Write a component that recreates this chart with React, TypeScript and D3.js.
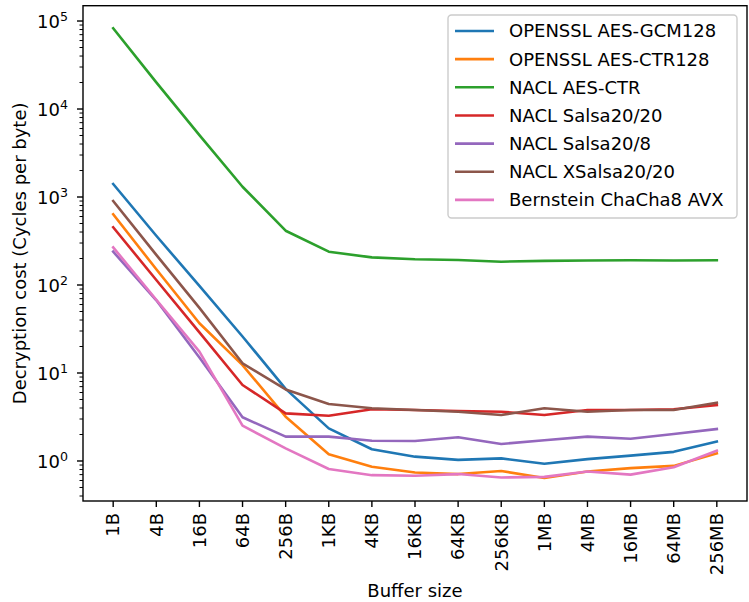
import React, { useEffect, useRef } from 'react';
import * as d3 from 'd3';

const sizes = ['1B', '4B', '16B', '64B', '256B', '1KB', '4KB', '16KB', '64KB', '256KB', '1MB', '4MB', '16MB', '64MB', '256MB'];

const gcm128 = [1405, 363, 97.5, 26, 6.6, 2.35, 1.36, 1.12, 1.03, 1.07, 0.93, 1.05, 1.15, 1.27, 1.66];
const ctr128 = [636, 151, 36.7, 12.3, 3.19, 1.19, 0.86, 0.74, 0.71, 0.77, 0.64, 0.76, 0.83, 0.88, 1.22];
const naclAesCtr = [82600, 20100, 5040, 1309, 414, 239, 206, 196, 192, 184, 188, 190, 191, 190, 191];
const salsa2020 = [453, 114, 28.9, 7.3, 3.48, 3.27, 3.87, 3.8, 3.7, 3.63, 3.33, 3.8, 3.8, 3.87, 4.33];
const salsa208 = [239, 67, 15, 3.14, 1.89, 1.89, 1.7, 1.69, 1.86, 1.56, 1.72, 1.89, 1.79, 2.03, 2.31];
const xsalsa2020 = [901, 220, 55, 12.9, 6.5, 4.44, 3.97, 3.8, 3.63, 3.33, 3.97, 3.63, 3.8, 3.8, 4.6];
const chacha8 = [268, 68, 17.5, 2.52, 1.39, 0.81, 0.69, 0.68, 0.71, 0.65, 0.66, 0.76, 0.7, 0.85, 1.31];

const seriesNames = ['OPENSSL AES-GCM128', 'OPENSSL AES-CTR128', 'NACL AES-CTR', 'NACL Salsa20/20', 'NACL Salsa20/8', 'NACL XSalsa20/20', 'Bernstein ChaCha8 AVX'];
const seriesValues = [gcm128, ctr128, naclAesCtr, salsa2020, salsa208, xsalsa2020, chacha8];
const colors = ['#1f77b4', '#ff7f0e', '#2ca02c', '#d62728', '#9467bd', '#8c564b', '#e377c2'];

const width = 749;
const height = 602;
const font = 'DejaVu Sans';
const fs = 18;

const App = () => {
  const svgRef = useRef<SVGSVGElement>(null);

  useEffect(() => {
    const svg = d3.select(svgRef.current);
    svg.selectAll('*').remove();

    const left = 83;
    const right = 747;
    const top = 5.7;
    const bottom = 501;

    const x = d3.scaleLinear().domain([-0.7, sizes.length - 1 + 0.7]).range([left, right]);
    const y = d3.scaleLog().domain([0.351, 149300]).range([bottom, top]);

    // minor + major y ticks
    const minor: number[] = [];
    for (let e = -1; e <= 5; e++) {
      for (let k = 2; k <= 9; k++) {
        const v = k * Math.pow(10, e);
        if (v >= 0.351 && v <= 149300) minor.push(v);
      }
    }
    svg.selectAll('.minor')
      .data(minor)
      .join('line')
      .attr('x1', left)
      .attr('x2', left - 3.5)
      .attr('y1', (d) => y(d))
      .attr('y2', (d) => y(d))
      .attr('stroke', '#000')
      .attr('stroke-width', 1);

    const majors = [0, 1, 2, 3, 4, 5];
    svg.selectAll('.major')
      .data(majors)
      .join('line')
      .attr('x1', left)
      .attr('x2', left - 6)
      .attr('y1', (d) => y(Math.pow(10, d)))
      .attr('y2', (d) => y(Math.pow(10, d)))
      .attr('stroke', '#000')
      .attr('stroke-width', 1.4);

    const yl = svg.selectAll('.ylab')
      .data(majors)
      .join('text')
      .attr('x', left - 15)
      .attr('y', (d) => y(Math.pow(10, d)))
      .attr('dy', '0.38em')
      .attr('text-anchor', 'end')
      .attr('font-family', font)
      .attr('font-size', fs)
      .text('10');
    yl.append('tspan')
      .attr('dy', '-0.55em')
      .attr('font-size', fs * 0.7)
      .text((d) => String(d));

    // x ticks
    svg.selectAll('.xtick')
      .data(sizes)
      .join('line')
      .attr('x1', (d, i) => x(i))
      .attr('x2', (d, i) => x(i))
      .attr('y1', bottom)
      .attr('y2', bottom + 6)
      .attr('stroke', '#000')
      .attr('stroke-width', 1.4);

    svg.selectAll('.xlab')
      .data(sizes)
      .join('text')
      .attr('transform', (d, i) => `translate(${x(i)},${bottom + 12}) rotate(-90)`)
      .attr('dy', '0.35em')
      .attr('text-anchor', 'end')
      .attr('font-family', font)
      .attr('font-size', fs)
      .text((d) => d);

    // lines
    const line = d3.line<number>()
      .x((d, i) => x(i))
      .y((d) => y(d));

    svg.selectAll('.series')
      .data(seriesValues)
      .join('path')
      .attr('d', (d) => line(d))
      .attr('fill', 'none')
      .attr('stroke', (d, i) => colors[i])
      .attr('stroke-width', 2.6)
      .attr('stroke-linejoin', 'round')
      .attr('stroke-linecap', 'square');

    // frame
    svg.append('rect')
      .attr('x', left)
      .attr('y', top)
      .attr('width', right - left)
      .attr('height', bottom - top)
      .attr('fill', 'none')
      .attr('stroke', '#000')
      .attr('stroke-width', 1.4);

    // legend
    const lg = svg.append('g');
    lg.append('rect')
      .attr('x', 448)
      .attr('y', 15)
      .attr('width', 289)
      .attr('height', 203)
      .attr('rx', 3.5)
      .attr('fill', 'white')
      .attr('fill-opacity', 0.8)
      .attr('stroke', '#cccccc')
      .attr('stroke-width', 1.4);
    seriesNames.forEach((name, i) => {
      const cy = 31 + i * 28.15;
      lg.append('line')
        .attr('x1', 455)
        .attr('x2', 494)
        .attr('y1', cy)
        .attr('y2', cy)
        .attr('stroke', colors[i])
        .attr('stroke-width', 2.6);
      lg.append('text')
        .attr('x', 509)
        .attr('y', cy)
        .attr('dy', '0.36em')
        .attr('font-family', font)
        .attr('font-size', fs)
        .text(name);
    });

    // axis titles
    svg.append('text')
      .attr('x', (left + right) / 2)
      .attr('y', 597)
      .attr('text-anchor', 'middle')
      .attr('font-family', font)
      .attr('font-size', fs)
      .text('Buffer size');

    svg.append('text')
      .attr('transform', `translate(26,${(top + bottom) / 2}) rotate(-90)`)
      .attr('text-anchor', 'middle')
      .attr('font-family', font)
      .attr('font-size', fs)
      .text('Decryption cost (Cycles per byte)');
  }, []);

  return (
    <svg
      ref={svgRef}
      width={width}
      height={height}
      style={{ position: 'absolute', left: 0, top: 0, background: 'white' }}
    />
  );
};

export default App;
